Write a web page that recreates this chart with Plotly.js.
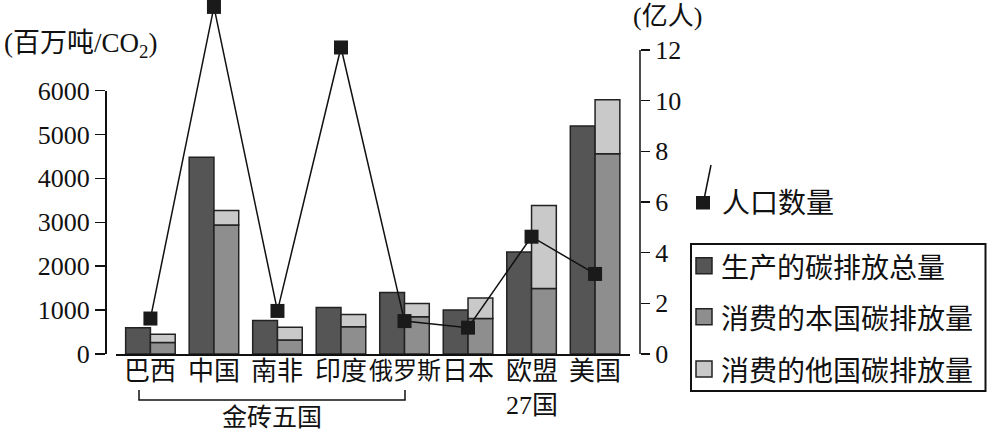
<!DOCTYPE html>
<html>
<head>
<meta charset="utf-8">
<script src="https://cdn.plot.ly/plotly-3.0.1.min.js"></script>
<style>html,body{margin:0;padding:0;background:#fff;}#chart{width:987px;height:433px;}</style>
</head>
<body>
<div id="chart"></div>
<script>
// ---- data ----
const categories = ['巴西','中国','南非','印度','俄罗斯','日本','欧盟27国','美国'];
const tickLabels = ['巴西','中国','南非','印度','俄罗斯','日本','欧盟<br>27国','美国'];
const production = [600, 4480, 760, 1060, 1400, 1000, 2320, 5190];      // 生产的碳排放总量 (百万吨)
const consumeDomestic = [260, 2940, 320, 620, 850, 810, 1490, 4560];    // 消费的本国碳排放量
const consumeForeign = [190, 330, 290, 280, 300, 465, 1890, 1230];      // 消费的他国碳排放量
const population = [1.4, 13.7, 1.7, 12.1, 1.3, 1.04, 4.63, 3.16];       // 人口数量 (亿人)
const leftTicks = [0, 1000, 2000, 3000, 4000, 5000, 6000];
const rightTicks = [0, 2, 4, 6, 8, 10, 12];
const legendNames = ['生产的碳排放总量','消费的本国碳排放量','消费的他国碳排放量'];

// ---- layout helpers ----
const W = 987, H = 433, ML = 105, MR = 347, MT = 0, MB = 79;
const PW = W - ML - MR, PH = H - MT - MB;
const fx = px => (px - ML) / PW;
const fy = py => (H - MB - py) / PH;
const y0px = H - MB;
const y12px = 50;
const rightTop = 12 * y0px / (y0px - y12px);

const serif = "'Liberation Serif', 'Noto Sans CJK SC', serif";
const cjk = "'Noto Sans CJK SC', sans-serif";
const ink = '#111';
const cDark = '#555555', cMid = '#8e8e8e', cLight = '#c9c9c9';
const barW = 0.39;
const outline = {color: '#222', width: 1.5};

const traces = [
  {type: 'bar', name: legendNames[0], x: categories, y: production,
   width: barW, offset: -barW, marker: {color: cDark, line: outline}, showlegend: false},
  {type: 'bar', name: legendNames[1], x: categories, y: consumeDomestic,
   width: barW, offset: 0, marker: {color: cMid, line: outline}, showlegend: false},
  {type: 'bar', name: legendNames[2], x: categories, y: consumeForeign, base: consumeDomestic,
   width: barW, offset: 0, marker: {color: cLight, line: outline}, showlegend: false},
  {type: 'scatter', mode: 'lines+markers', name: '人口数量', x: categories, y: population,
   xaxis: 'x', yaxis: 'y2', cliponaxis: false,
   line: {color: ink, width: 1.5},
   marker: {symbol: 'square', size: 14, color: '#1a1a1a', line: {width: 0}}, showlegend: false}
];

const shapes = [];
const annotations = [];
// category labels (placed on the category axis scale)
categories.forEach((c, i) => {
  tickLabels[i].split('<br>').forEach((ln, j) => {
    annotations.push({xref: 'x', yref: 'paper', x: c, y: fy(371 + 34 * j), text: ln,
      showarrow: false, xanchor: 'center', yanchor: 'middle',
      font: {family: serif, size: (ln.length >= 3 && j === 0) ? 24 : 26, color: ink}});
  });
});
// right axis line, only from 0 to 12
shapes.push({type: 'line', xref: 'paper', yref: 'y2', x0: 1, x1: 1, y0: 0, y1: 12,
  line: {color: ink, width: 1.5}});
// bracket for 金砖五国
shapes.push({type: 'path', xref: 'paper', yref: 'paper',
  path: `M ${fx(139)},${fy(390)} L ${fx(139)},${fy(400)} L ${fx(405)},${fy(400)} L ${fx(405)},${fy(390)}`,
  line: {color: ink, width: 1.5}});
annotations.push({xref: 'paper', yref: 'paper', x: fx(272), y: fy(415), text: '金砖五国',
  showarrow: false, xanchor: 'center', yanchor: 'middle', font: {family: cjk, size: 25, color: ink}});
// axis titles
annotations.push({xref: 'paper', yref: 'paper', x: fx(2), y: fy(45), text: '(百万吨/CO<sub>2</sub>)',
  showarrow: false, xanchor: 'left', yanchor: 'middle', font: {family: serif, size: 27, color: ink}});
annotations.push({xref: 'paper', yref: 'paper', x: fx(631), y: fy(16), text: '(亿人)',
  showarrow: false, xanchor: 'left', yanchor: 'middle', font: {family: serif, size: 26, color: ink}});
// population legend
shapes.push({type: 'rect', xref: 'paper', yref: 'paper', x0: fx(696), x1: fx(710), y0: fy(209.5), y1: fy(196),
  fillcolor: '#1a1a1a', line: {width: 0}});
shapes.push({type: 'line', xref: 'paper', yref: 'paper', x0: fx(704.5), y0: fy(197), x1: fx(711), y1: fy(165),
  line: {color: ink, width: 1.5}});
annotations.push({xref: 'paper', yref: 'paper', x: fx(720), y: fy(201), text: '人口数量',
  showarrow: false, xanchor: 'left', yanchor: 'middle', font: {family: cjk, size: 28, color: ink}});
// bar legend box
shapes.push({type: 'rect', xref: 'paper', yref: 'paper', x0: fx(691), x1: fx(985.5), y0: fy(391), y1: fy(244),
  line: {color: ink, width: 2}, fillcolor: 'rgba(0,0,0,0)'});
const legCols = [cDark, cMid, cLight];
const legY = [265.7, 316.7, 369];
legendNames.forEach((nm, i) => {
  shapes.push({type: 'rect', xref: 'paper', yref: 'paper', x0: fx(696), x1: fx(712),
    y0: fy(legY[i] + 8), y1: fy(legY[i] - 8), fillcolor: legCols[i], line: {color: '#222', width: 1.5}});
  annotations.push({xref: 'paper', yref: 'paper', x: fx(719), y: fy(legY[i]), text: nm,
    showarrow: false, xanchor: 'left', yanchor: 'middle', font: {family: cjk, size: 28, color: ink}});
});

const layout = {
  width: W, height: H,
  margin: {l: ML, r: MR, t: MT, b: MB, pad: 0},
  paper_bgcolor: '#fff', plot_bgcolor: 'rgba(0,0,0,0)',
  barmode: 'overlay',
  showlegend: false,
  xaxis: {
    domain: [fx(116), fx(629.5)],
    type: 'category', categoryarray: categories, showticklabels: false,
    showline: true, linecolor: ink, linewidth: 1.5, ticks: '',
    showgrid: false, zeroline: false, automargin: false,
    anchor: 'y', fixedrange: true
  },
  yaxis: {
    domain: [0, fy(90.5)], range: [0, 6000],
    tickvals: leftTicks, ticktext: leftTicks.map(String),
    anchor: 'free', position: 0, automargin: false,
    showline: true, linecolor: ink, linewidth: 1.5,
    ticks: 'outside', ticklen: 10, tickwidth: 1.5, tickcolor: ink,
    showgrid: false, zeroline: false,
    tickfont: {family: serif, size: 26, color: ink}, fixedrange: true
  },
  yaxis2: {
    domain: [0, 1], range: [0, rightTop],
    tickvals: rightTicks, ticktext: rightTicks.map(String),
    anchor: 'free', position: 1, side: 'right', automargin: false,
    showline: false,
    ticks: 'outside', ticklen: 9, tickwidth: 1.5, tickcolor: ink,
    showgrid: false, zeroline: false,
    tickfont: {family: serif, size: 26, color: ink}, fixedrange: true
  },
  shapes: shapes,
  annotations: annotations
};

Plotly.newPlot('chart', traces, layout, {staticPlot: true, displayModeBar: false});
</script>
</body>
</html>
